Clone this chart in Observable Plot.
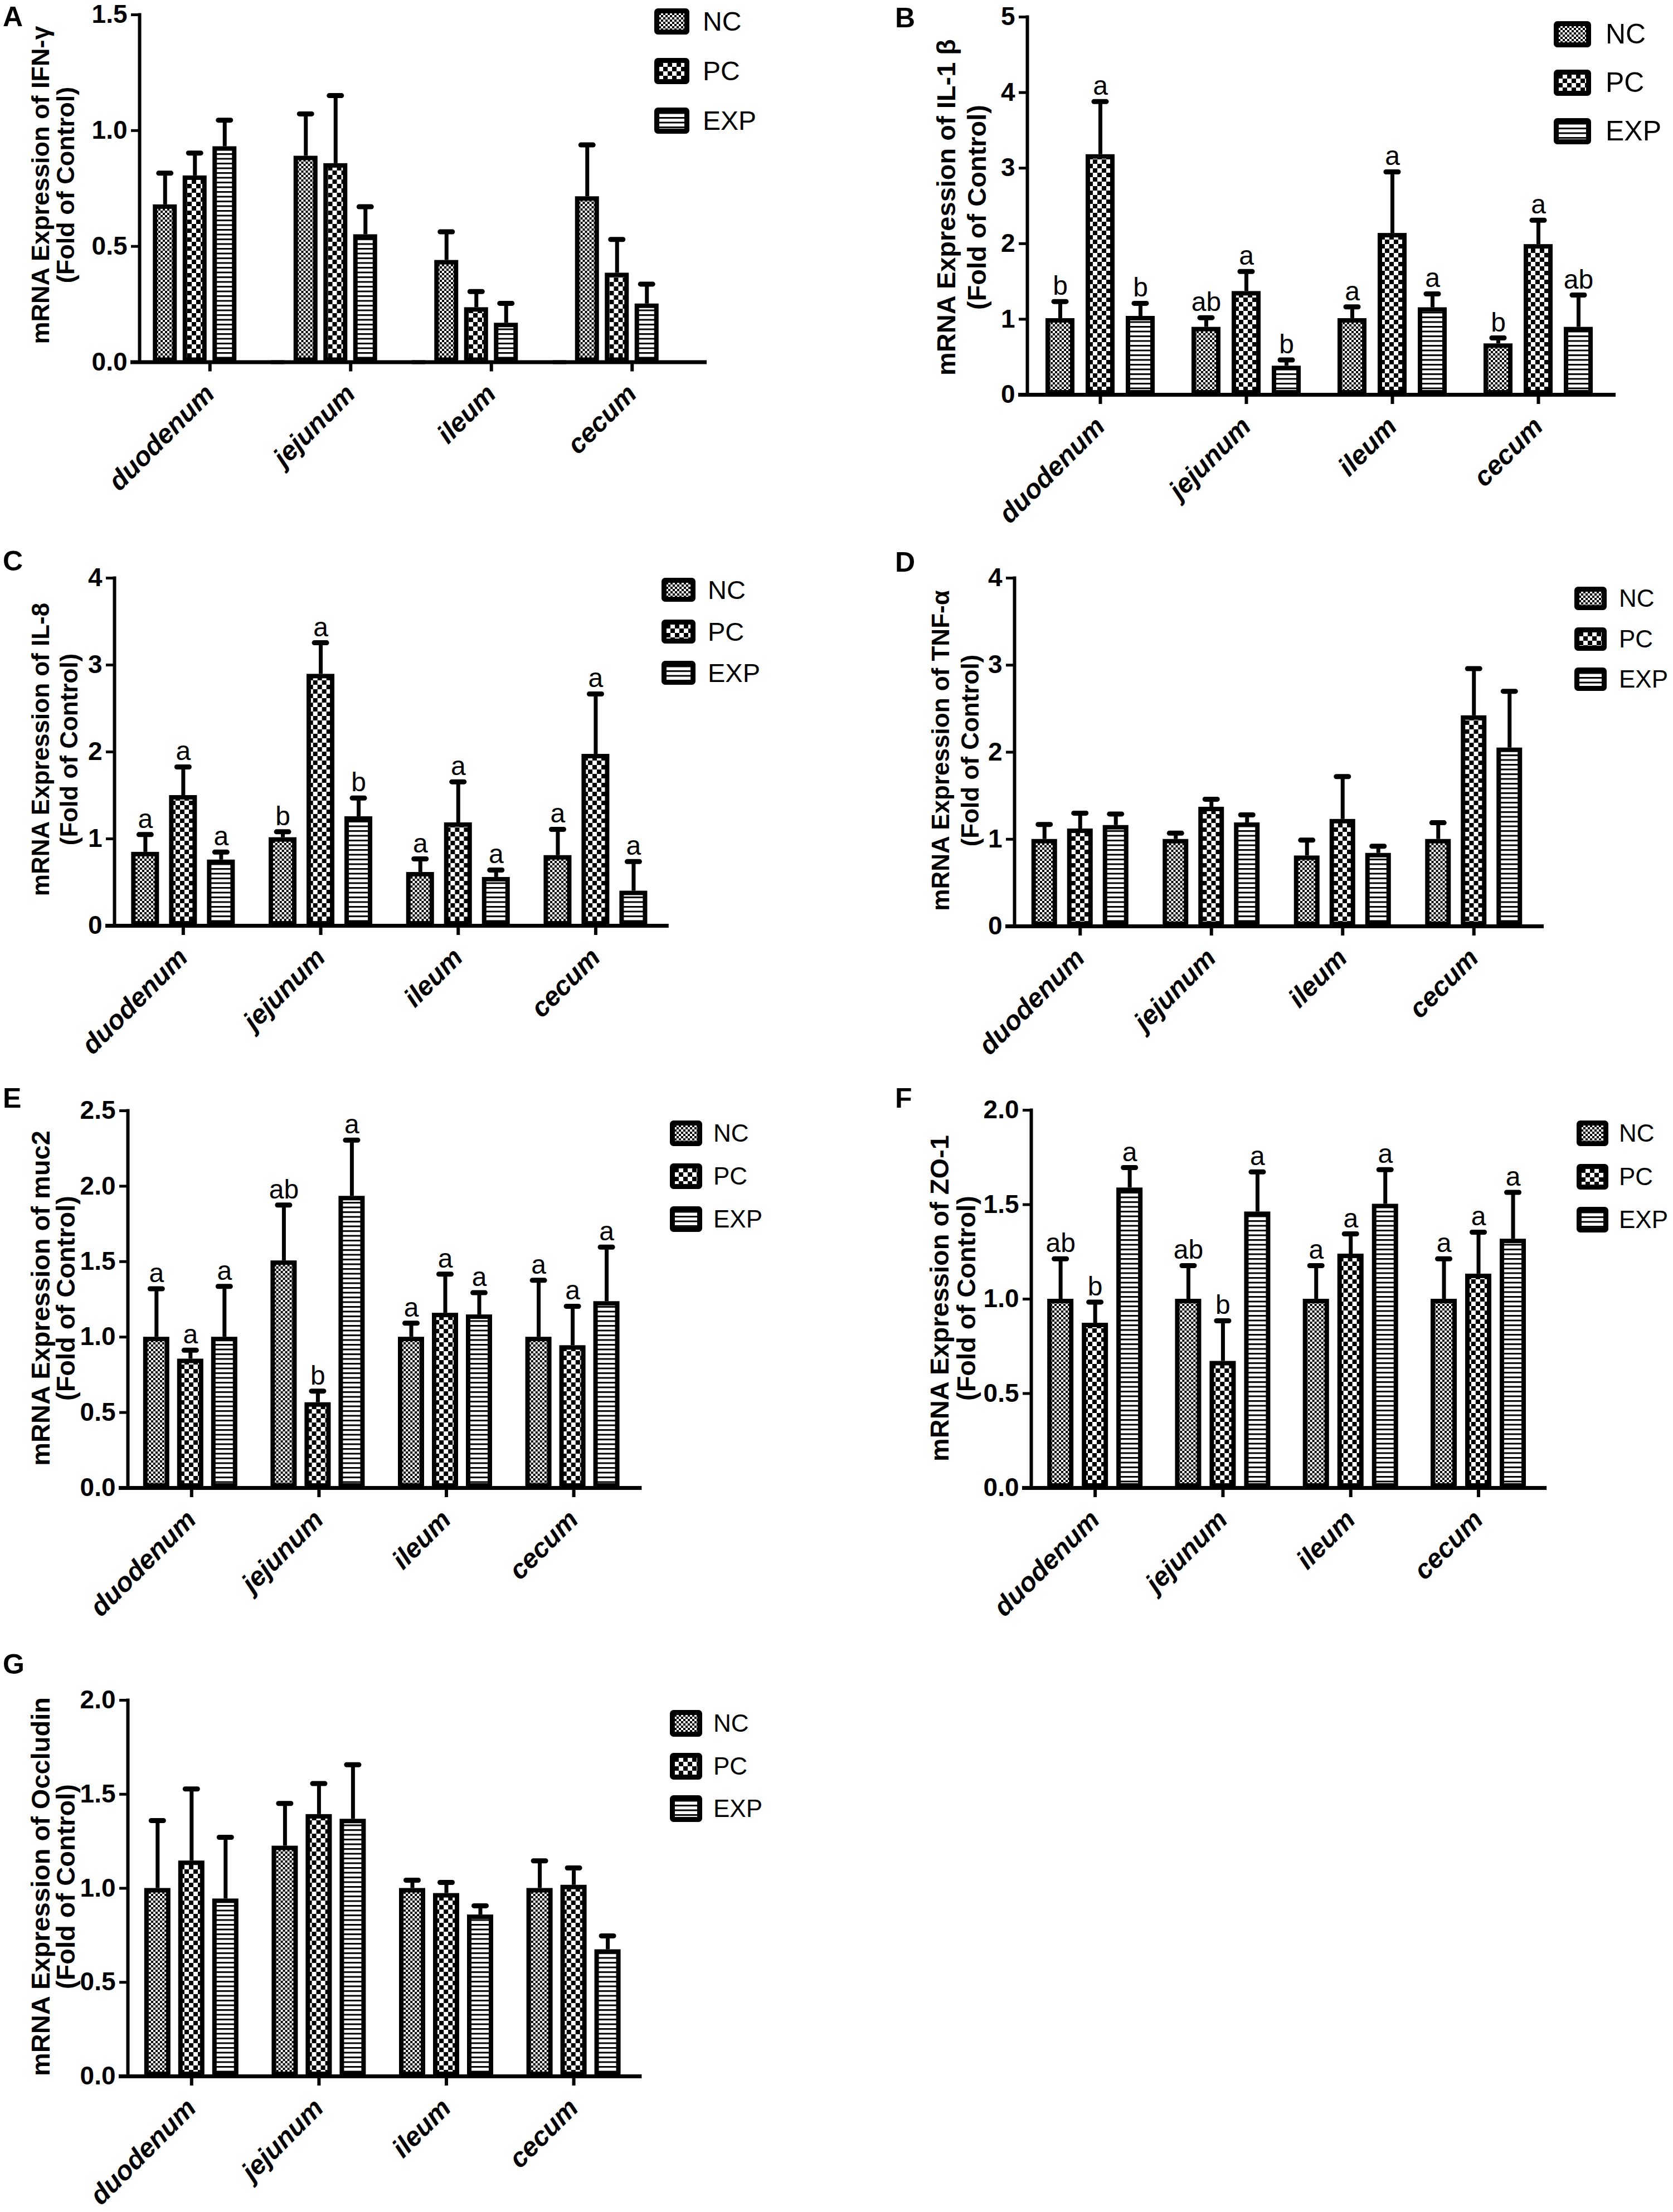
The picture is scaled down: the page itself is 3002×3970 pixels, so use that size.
<!DOCTYPE html>
<html><head><meta charset="utf-8">
<script src="https://cdn.jsdelivr.net/npm/d3@7"></script>
<script src="https://cdn.jsdelivr.net/npm/@observablehq/plot@0.6"></script>
<style>
html,body{margin:0;padding:0;background:#fff;}
#page{position:relative;width:3002px;height:3970px;background:#fff;overflow:hidden;font-family:"Liberation Sans",Arial,sans-serif;color:#000;}
.plet{position:absolute;font-weight:bold;line-height:1;}
.ytitle{position:absolute;font-weight:bold;white-space:nowrap;text-align:center;transform:translate(-50%,-50%) rotate(-90deg);}
.legtxt{position:absolute;white-space:nowrap;}
</style></head><body>
<svg width="0" height="0" style="position:absolute;left:0;top:0">
<defs>
<pattern id="patNC" patternUnits="userSpaceOnUse" width="8" height="8"><rect width="8" height="8" fill="#fff"/><rect width="4" height="4" fill="#000"/><rect x="4" y="4" width="4" height="4" fill="#000"/></pattern>
<pattern id="patPC" patternUnits="userSpaceOnUse" width="16" height="16"><rect width="16" height="16" fill="#fff"/><rect width="8" height="8" fill="#000"/><rect x="8" y="8" width="8" height="8" fill="#000"/></pattern>
<pattern id="patEXP" patternUnits="userSpaceOnUse" width="8" height="8.5"><rect width="8" height="8.5" fill="#fff"/><rect width="8" height="3" fill="#000"/></pattern>
</defs></svg>
<div id="page"></div>
<script>
// ---------- data ----------
const categories = ["duodenum", "jejunum", "ileum", "cecum"];
const groups = ["NC", "PC", "EXP"];

// A: IFN-γ
const A_NC = [0.68, 0.89, 0.44, 0.715];
const A_PC = [0.805, 0.858, 0.236, 0.385];
const A_EXP = [0.931, 0.551, 0.169, 0.252];
const A_NC_up = [0.816, 1.072, 0.563, 0.938];
const A_PC_up = [0.903, 1.151, 0.305, 0.53];
const A_EXP_up = [1.045, 0.671, 0.254, 0.337];

// B: IL-1β
const B_NC = [1.01, 0.895, 1.01, 0.676];
const B_PC = [3.18, 1.369, 2.138, 1.99];
const B_EXP = [1.04, 0.381, 1.154, 0.895];
const B_NC_up = [1.234, 1.02, 1.163, 0.752];
const B_PC_up = [3.88, 1.632, 2.95, 2.31];
const B_EXP_up = [1.21, 0.461, 1.335, 1.32];
const B_NC_sig = ["b", "ab", "a", "b"];
const B_PC_sig = ["a", "a", "a", "a"];
const B_EXP_sig = ["b", "b", "a", "ab"];

// C: IL-8
const C_NC = [0.847, 1.015, 0.615, 0.809];
const C_PC = [1.5, 2.895, 1.186, 1.974];
const C_EXP = [0.758, 1.256, 0.558, 0.40];
const C_NC_up = [1.049, 1.081, 0.769, 1.109];
const C_PC_up = [1.827, 3.256, 1.656, 2.667];
const C_EXP_up = [0.847, 1.469, 0.641, 0.738];
const C_NC_sig = ["a", "b", "a", "a"];
const C_PC_sig = ["a", "a", "a", "a"];
const C_EXP_sig = ["a", "b", "a", "a"];

// D: TNF-α
const D_NC = [1.0, 1.0, 0.81, 1.0];
const D_PC = [1.12, 1.37, 1.23, 2.42];
const D_EXP = [1.16, 1.19, 0.84, 2.05];
const D_NC_up = [1.17, 1.07, 0.99, 1.19];
const D_PC_up = [1.30, 1.46, 1.72, 2.96];
const D_EXP_up = [1.29, 1.28, 0.92, 2.70];

// E: muc2
const E_NC = [1.0, 1.506, 1.0, 1.0];
const E_PC = [0.855, 0.566, 1.159, 0.944];
const E_EXP = [1.0, 1.934, 1.148, 1.236];
const E_NC_up = [1.32, 1.875, 1.092, 1.376];
const E_PC_up = [0.913, 0.642, 1.417, 1.204];
const E_EXP_up = [1.336, 2.305, 1.294, 1.596];
const E_NC_sig = ["a", "ab", "a", "a"];
const E_PC_sig = ["a", "b", "a", "a"];
const E_EXP_sig = ["a", "a", "a", "a"];

// F: ZO-1
const F_NC = [1.0, 1.0, 1.0, 1.0];
const F_PC = [0.873, 0.671, 1.239, 1.133];
const F_EXP = [1.589, 1.462, 1.503, 1.318];
const F_NC_up = [1.213, 1.177, 1.177, 1.213];
const F_PC_up = [0.984, 0.885, 1.345, 1.354];
const F_EXP_up = [1.696, 1.673, 1.685, 1.565];
const F_NC_sig = ["ab", "ab", "a", "a"];
const F_PC_sig = ["b", "b", "a", "a"];
const F_EXP_sig = ["a", "a", "a", "a"];

// G: Occludin
const G_NC = [1.0, 1.225, 1.0, 1.0];
const G_PC = [1.146, 1.393, 0.973, 1.017];
const G_EXP = [0.944, 1.368, 0.859, 0.674];
const G_NC_up = [1.36, 1.451, 1.043, 1.146];
const G_PC_up = [1.528, 1.557, 1.031, 1.108];
const G_EXP_up = [1.271, 1.657, 0.907, 0.747];

const ticks05_15 = [0, 0.5, 1.0, 1.5];
const ticks1_5 = [0, 1, 2, 3, 4, 5];
const ticks1_4 = [0, 1, 2, 3, 4];
const ticks05_25 = [0, 0.5, 1.0, 1.5, 2.0, 2.5];
const ticks05_20 = [0, 0.5, 1.0, 1.5, 2.0];

// ---------- layout ----------
const FONT = '"Liberation Sans", Arial, Helvetica, sans-serif';
const panels = [
  {letter: "A", lx: 5, lcap: 11, title: "mRNA Expression of IFN-γ", tcx: 94.5, tcy: 332, tgap: 45, tfs: 45,
   means: [A_NC, A_PC, A_EXP], ups: [A_NC_up, A_PC_up, A_EXP_up], sigs: null,
   axisX: 250, yTop: 25.5, y0: 649, S: 252.5, s: 53.5, w: 43, o: -27, ymax: 1.5, ticks: ticks05_15, fmt: ".1f",
   leg: {x: 1174, y: 15, w: 63, h: 47, gap: 89, fs: 48, tx: 87}},
  {letter: "B", lx: 1606, lcap: 13, title: "mRNA Expression of IL-1 β", tcx: 1724.5, tcy: 372, tgap: 55, tfs: 47,
   means: [B_NC, B_PC, B_EXP], ups: [B_NC_up, B_PC_up, B_EXP_up], sigs: [B_NC_sig, B_PC_sig, B_EXP_sig],
   axisX: 1843, yTop: 30, y0: 708, S: 262, s: 72, w: 52, o: 0, ymax: 5, ticks: ticks1_5, fmt: "d",
   leg: {x: 2788, y: 38, w: 67, h: 47, gap: 87, fs: 50, tx: 93}},
  {letter: "C", lx: 5, lcap: 988, title: "mRNA Expression of IL-8", tcx: 97.5, tcy: 1345, tgap: 51, tfs: 44,
   means: [C_NC, C_PC, C_EXP], ups: [C_NC_up, C_PC_up, C_EXP_up], sigs: [C_NC_sig, C_PC_sig, C_EXP_sig],
   axisX: 205, yTop: 1037, y0: 1661, S: 246.7, s: 68, w: 50, o: 0, ymax: 4, ticks: ticks1_4, fmt: "d",
   leg: {x: 1187, y: 1037, w: 61, h: 43, gap: 74.5, fs: 47, tx: 83}},
  {letter: "D", lx: 1606, lcap: 990, title: "mRNA Expression of TNF-α", tcx: 1713.5, tcy: 1347, tgap: 53, tfs: 44,
   means: [D_NC, D_PC, D_EXP], ups: [D_NC_up, D_PC_up, D_EXP_up], sigs: null,
   axisX: 1820, yTop: 1037, y0: 1662, S: 235.5, s: 64, w: 46, o: 0, ymax: 4, ticks: ticks1_4, fmt: "d",
   leg: {x: 2825, y: 1053, w: 58, h: 42, gap: 72.5, fs: 44, tx: 80}},
  {letter: "E", lx: 5, lcap: 1952, title: "mRNA Expression of muc2", tcx: 94.5, tcy: 2330, tgap: 45, tfs: 47,
   means: [E_NC, E_PC, E_EXP], ups: [E_NC_up, E_PC_up, E_EXP_up], sigs: [E_NC_sig, E_PC_sig, E_EXP_sig],
   axisX: 229, yTop: 1993, y0: 2670, S: 228.6, s: 61, w: 47, o: -2, ymax: 2.5, ticks: ticks05_25, fmt: ".1f",
   leg: {x: 1202, y: 2011, w: 58, h: 46, gap: 77, fs: 44, tx: 78}},
  {letter: "F", lx: 1606, lcap: 1952, title: "mRNA Expression of ZO-1", tcx: 1710, tcy: 2330, tgap: 48, tfs: 47,
   means: [F_NC, F_PC, F_EXP], ups: [F_NC_up, F_PC_up, F_EXP_up], sigs: [F_NC_sig, F_PC_sig, F_EXP_sig],
   axisX: 1850, yTop: 1992, y0: 2670, S: 229.3, s: 62, w: 47, o: 0, ymax: 2, ticks: ticks05_20, fmt: ".1f",
   leg: {x: 2829, y: 2011, w: 57, h: 46, gap: 77.5, fs: 44, tx: 76}},
  {letter: "G", lx: 5, lcap: 2968, title: "mRNA Expression of Occludin", tcx: 94.5, tcy: 3386, tgap: 45, tfs: 47,
   means: [G_NC, G_PC, G_EXP], ups: [G_NC_up, G_PC_up, G_EXP_up], sigs: null,
   axisX: 229, yTop: 3051, y0: 3726, S: 228.6, s: 61, w: 47, o: 0, ymax: 2, ticks: ticks05_20, fmt: ".1f",
   leg: {x: 1202, y: 3069, w: 58, h: 48, gap: 76.5, fs: 44, tx: 78}}
];

const patterns = ["url(#patNC)", "url(#patPC)", "url(#patEXP)"];
const page = document.getElementById("page");

function tidy(p) {
  const rows = [];
  categories.forEach((c, i) => groups.forEach((g, j) => {
    rows.push({cat: c, group: g, v: p.means[j][i], up: p.ups[j][i], sig: p.sigs ? p.sigs[j][i] : ""});
  }));
  return rows;
}

function drawPanel(p) {
  const rows = tidy(p);
  const ml = 130, mr = 30, mt = 40, mb = 300;
  const pi = 1 - p.w / p.s;
  const po = (p.S / p.s - 3 + pi) / 2;
  const G = 2 * p.s + p.w;
  const align = Math.max(0, Math.min(1, (p.S / 2 + p.o - G / 2) / (p.S - G)));
  const capIn = (p.w - 22) / 2;
  const chart = Plot.plot({
    width: ml + 4 * p.S + mr,
    height: mt + (p.y0 - p.yTop) + mb,
    marginLeft: ml, marginRight: mr, marginTop: mt, marginBottom: mb,
    style: {fontFamily: FONT, background: "transparent", overflow: "visible", color: "#000"},
    fx: {domain: categories, padding: 0, round: false, label: null},
    x: {domain: groups, paddingInner: pi, paddingOuter: po, align, round: false, axis: null},
    y: {domain: [0, p.ymax]},
    color: {domain: groups, range: patterns},
    marks: [
      Plot.ruleX(rows, {fx: "cat", x: "group", y1: "v", y2: "up", stroke: "#000", strokeWidth: 7}),
      Plot.tickY(rows, {fx: "cat", x: "group", y: "up", stroke: "#000", strokeWidth: 9, strokeLinecap: "round", insetLeft: capIn, insetRight: capIn}),
      Plot.barY(rows, {fx: "cat", x: "group", y: "v", fill: "group", stroke: "#000", strokeWidth: 8, inset: 4}),
      Plot.text(rows.filter(d => d.sig), {fx: "cat", x: "group", y: "up", text: "sig", dy: -12, lineAnchor: "bottom", fontSize: 48, fill: "#000"}),
      Plot.ruleY([0], {stroke: "#000", strokeWidth: 7, insetLeft: -16, insetRight: -8}),
      Plot.frame({anchor: "left", facetAnchor: "left", stroke: "#000", strokeWidth: 6}),
      Plot.axisY({ticks: p.ticks, tickFormat: d3.format(p.fmt), tickSize: 15, tickPadding: 7, fontSize: 46, fontWeight: "bold", stroke: "#000", strokeWidth: 5, label: null}),
      Plot.axisFx({anchor: "bottom", tickSize: 17, tickPadding: 32, tickRotate: -45, fontSize: 48, fontWeight: "bold", fontStyle: "italic", stroke: "#000", strokeWidth: 6, label: null})
    ]
  });
  chart.style.position = "absolute";
  chart.style.left = (p.axisX - ml) + "px";
  chart.style.top = (p.yTop - mt) + "px";
  page.appendChild(chart);

  // panel letter
  const L = document.createElement("div");
  L.className = "plet";
  L.style.fontSize = "50px";
  L.style.left = p.lx + "px";
  L.style.top = Math.max(0, p.lcap - 0.13 * 50) + "px";
  L.textContent = p.letter;
  page.appendChild(L);

  // y title
  const T = document.createElement("div");
  T.className = "ytitle";
  T.style.left = p.tcx + "px";
  T.style.top = p.tcy + "px";
  T.style.fontSize = p.tfs + "px";
  T.style.lineHeight = p.tgap + "px";
  const l1 = document.createElement("div"); l1.textContent = p.title;
  const l2 = document.createElement("div"); l2.textContent = "(Fold of Control)";
  T.appendChild(l1); T.appendChild(l2);
  page.appendChild(T);

  // legend
  const lg = p.leg;
  groups.forEach((g, j) => {
    const top = lg.y + j * lg.gap;
    const sw = d3.create("svg").attr("width", lg.w).attr("height", lg.h)
      .style("position", "absolute").style("left", lg.x + "px").style("top", top + "px");
    sw.append("rect").attr("x", 4.5).attr("y", 4.5).attr("width", lg.w - 9).attr("height", lg.h - 9)
      .attr("rx", 2).attr("fill", patterns[j]).attr("stroke", "#000").attr("stroke-width", 9);
    page.appendChild(sw.node());
    const t = document.createElement("div");
    t.className = "legtxt";
    t.style.left = (lg.x + lg.tx) + "px";
    t.style.top = top + "px";
    t.style.height = lg.h + "px";
    t.style.lineHeight = lg.h + "px";
    t.style.fontSize = lg.fs + "px";
    t.textContent = g;
    page.appendChild(t);
  });
}

panels.forEach(drawPanel);
</script>
</body></html>
